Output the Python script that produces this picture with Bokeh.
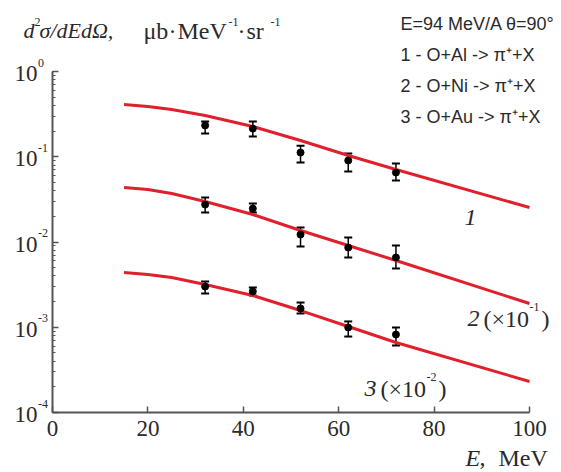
from bokeh.plotting import figure
from bokeh.models import (Range1d, Label, Whisker, TeeHead, ColumnDataSource, FixedTicker,
                          LogTicker, CustomJSTickFormatter)
from bokeh.embed import file_html
from bokeh.resources import INLINE

# ---------------- data ----------------
curve_x = [15, 20, 25, 32, 42, 52, 62, 72, 100]
curve1 = [0.410, 0.3885, 0.3583, 0.3047, 0.2264, 0.1551, 0.1034, 0.0709, 0.0254]
curve2 = [0.0436, 0.04128, 0.03706, 0.02987, 0.02102, 0.01364, 0.00910, 0.00607, 0.00190]
curve3 = [0.00439, 0.004157, 0.003833, 0.003173, 0.002358, 0.00157, 0.00102, 0.000662, 0.000231]

pts_x = [32, 42, 52, 62, 72]
pts1 = [0.233, 0.214, 0.112, 0.0904, 0.0653]
pts1_lo = [0.187, 0.173, 0.0857, 0.0671, 0.0526]
pts1_hi = [0.259, 0.259, 0.135, 0.109, 0.0833]
pts2 = [0.0275, 0.0247, 0.01225, 0.0086, 0.00658]
pts2_lo = [0.0222, 0.0222, 0.00885, 0.00658, 0.00489]
pts2_hi = [0.0333, 0.0282, 0.0148, 0.0113, 0.0091]
pts3 = [0.0030, 0.00263, 0.00166, 0.000993, 0.000822]
pts3_lo = [0.00249, 0.00235, 0.00145, 0.000778, 0.000611]
pts3_hi = [0.00344, 0.00293, 0.00195, 0.00117, 0.000993]

x_ticks = [0, 20, 40, 60, 80, 100]
y_ticks = [1, 0.1, 0.01, 0.001, 0.0001]
y_tick_exps = ["0", "-1", "-2", "-3", "-4"]

legend_lines = ["E=94 MeV/A \u03b8=90\u00b0",
                "1 - O+Al -> \u03c0\u207a+X",
                "2 - O+Ni -> \u03c0\u207a+X",
                "3 - O+Au -> \u03c0\u207a+X"]

# ---------------- layout ----------------
W, H = 561, 472
L, R, T, B = 52, 32, 71, 60          # pixel position of the axes box
XS = (W - L - R) / 100.0
DS = (H - T - B) / 4.0

def X(px):
    return (px - L) / XS

def Y(py):
    return 10 ** (-(py - T) / DS)

SERIF = "Liberation Serif"
SANS = "Liberation Sans"
TXT = "#2a2a2a"
AX = "#555555"
RED = "#e0202c"

p = figure(width=W, height=H, output_backend="svg", toolbar_location=None,
           y_axis_type="log", x_range=Range1d(X(0), X(W)), y_range=Range1d(Y(H), Y(0)),
           min_border=0)
p.outline_line_color = None
p.xgrid.visible = False
p.ygrid.visible = False
p.background_fill_color = "white"
p.border_fill_color = "white"

for ax in (p.xaxis[0], p.yaxis[0]):
    ax.axis_line_color = AX
    ax.axis_line_width = 2
    ax.major_tick_line_color = AX
    ax.major_tick_line_width = 1.5
    ax.major_tick_in = 6
    ax.major_tick_out = 0
    ax.minor_tick_line_color = AX
    ax.minor_tick_in = 3
    ax.minor_tick_out = 0

p.xaxis.fixed_location = 1e-4
p.xaxis.bounds = (0, 100)
p.xaxis.ticker = FixedTicker(ticks=x_ticks)
p.xaxis.minor_tick_line_color = None
p.xaxis.major_label_text_font = SERIF
p.xaxis.major_label_text_font_size = "23px"
p.xaxis.major_label_text_color = TXT
p.xaxis.major_label_standoff = 8

p.yaxis.fixed_location = 0
p.yaxis.bounds = (1e-4, 1)
p.yaxis.ticker = LogTicker(desired_num_ticks=5, num_minor_ticks=10)
p.yaxis.formatter = CustomJSTickFormatter(code="return ''")
p.yaxis.major_label_standoff = 0

# curves
for cy in (curve1, curve2, curve3):
    p.line(curve_x, cy, line_color=RED, line_width=3)

# points with error bars
for py_, lo, hi in ((pts1, pts1_lo, pts1_hi), (pts2, pts2_lo, pts2_hi), (pts3, pts3_lo, pts3_hi)):
    src = ColumnDataSource(dict(x=pts_x, y=py_, lo=lo, hi=hi))
    p.add_layout(Whisker(source=src, base="x", upper="hi", lower="lo",
                         line_color="black", line_width=1.5,
                         upper_head=TeeHead(size=8, line_color="black", line_width=2),
                         lower_head=TeeHead(size=8, line_color="black", line_width=2)))
    p.scatter("x", "y", source=src, size=7, marker="circle", fill_color="black", line_color="black")

def lab(px, py, text, font=SERIF, size=22, style="normal", align="left", color=TXT):
    p.add_layout(Label(x=X(px), y=Y(py), text=text, text_font=font,
                       text_font_size=f"{size}px", text_font_style=style,
                       text_align=align, text_baseline="middle", text_color=color))

# y tick labels
for v, e in zip(y_ticks, y_tick_exps):
    p.add_layout(Label(x=X(37), y=v * 10 ** (-2 / DS), text="10", text_font=SERIF,
                       text_font_size="23px", text_align="right", text_baseline="middle",
                       text_color=TXT))
    p.add_layout(Label(x=X(37.5), y=v * 10 ** (9 / DS), text=e, text_font=SERIF,
                       text_font_size="12px", text_align="left", text_baseline="middle",
                       text_color=TXT))

# y-axis title (top-left)
lab(23, 30, "d", style="italic")
lab(34, 21, "2", size=12)
lab(39, 30, "\u03c3/dEd\u03a9,", style="italic")
lab(143, 30, "\u03bcb", size=24)
lab(168, 30, "\u00b7", size=24)
lab(177, 30, "MeV", size=24)
lab(228, 21, "-1", size=12)
lab(237, 30, "\u00b7", size=24)
lab(246, 30, "sr", size=24)
lab(270, 21, "-1", size=12)

# x-axis title
lab(465, 457, "E", style="italic", size=24)
lab(479, 457, ",", size=24)
lab(498, 457, "MeV", size=24)

# legend text
for i, t in enumerate(legend_lines):
    lab(400, 23 + 31 * i, t, font=SANS, size=18)

# curve labels
lab(470, 217, "1", style="italic", size=24, align="center")
lab(467, 318, "2", style="italic", size=24)
lab(483, 318, "(\u00d710", size=24)
lab(529, 306, "-1", size=12)
lab(541, 318, ")", size=24)
lab(364, 388, "3", style="italic", size=24)
lab(380, 388, "(\u00d710", size=24)
lab(426, 376, "-2", size=12)
lab(438, 388, ")", size=24)

open("out.html", "w").write(file_html(p, INLINE))
